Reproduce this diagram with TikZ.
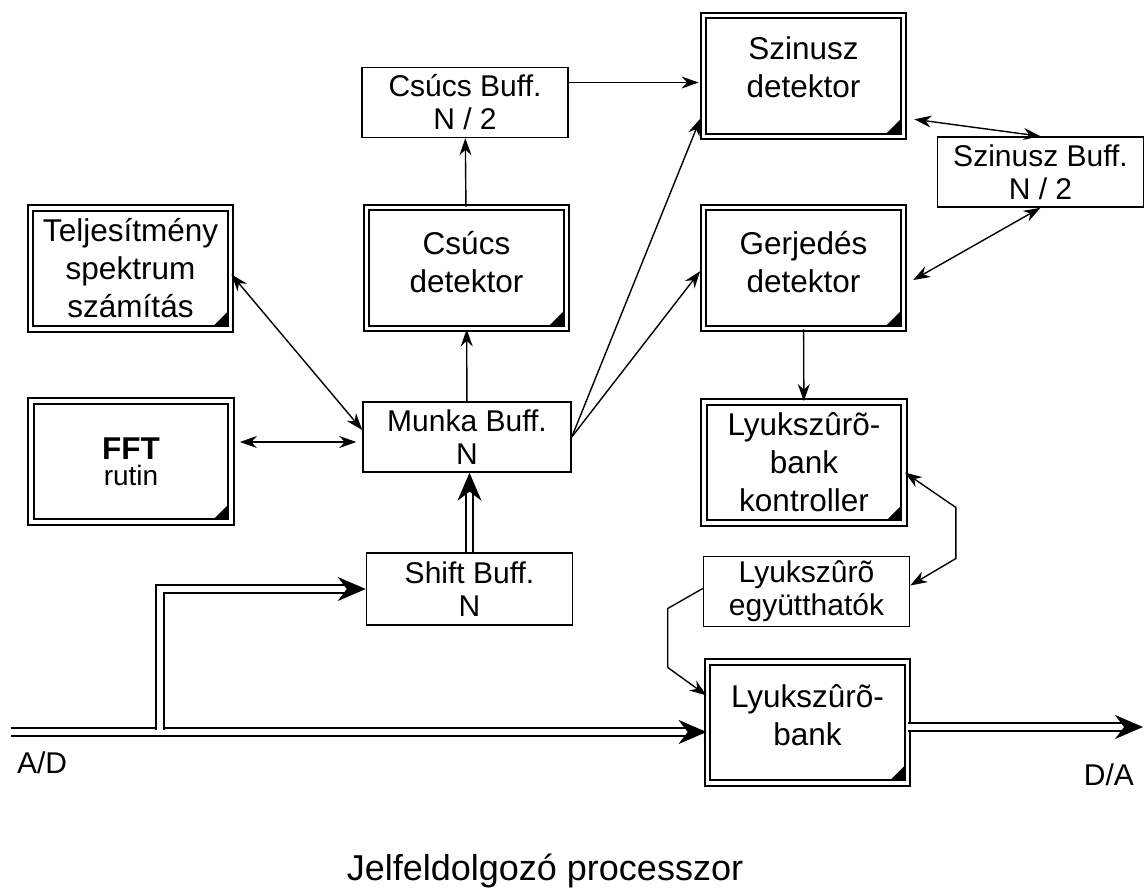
\documentclass[tikz,border=0pt]{standalone}
\usepackage{fontspec}
\setmainfont{Liberation Sans}
\usetikzlibrary{positioning, arrows.meta, calc}

\begin{document}
\begin{tikzpicture}[x=1pt,y=-1pt,>={Stealth[length=17pt,width=12pt]},line width=1.4pt,
    procbox/.style={draw,double,double distance=3.5pt,line width=1.8pt,
        minimum width=200pt,minimum height=121pt,align=center,
        font=\fontsize{31.5}{38}\selectfont,
        path picture={\fill ([shift={(-3.6pt,3.6pt)}]path picture bounding box.south east)
            -- ++(-13pt,0pt) -- ++(13pt,13pt) -- cycle;}},
    bufbox/.style={draw,line width=1.5pt,minimum width=206pt,minimum height=70pt,
        align=center,inner sep=0pt,font=\fontsize{30}{33}\selectfont},
    bus/.style={double,double distance=5.5pt,line width=2.1pt,-{Stealth[length=28pt,width=24pt]}},
    lbl/.style={font=\fontsize{30}{33}\selectfont}]
    \useasboundingbox (0,0) rectangle (1145,888);

    % feldolgozo blokkok
    \node[procbox,text depth=18pt] (szdet) at (803.5,76) {Szinusz\\detektor};
    \node[procbox] (telj) at (130.5,268.5) {Teljesítmény\\spektrum\\számítás};
    \node[procbox,text depth=12pt] (csdet) at (466.5,268) {Csúcs\\detektor};
    \node[procbox,text depth=12pt] (gerj) at (803.5,268) {Gerjedés\\detektor};
    \node[procbox] (fft) at (131,461.5) {\textbf{FFT}\\[-12pt]{\fontsize{28}{30}\selectfont rutin}};
    \node[procbox] (ctrl) at (804,462.5) {Lyukszûrõ-\\bank\\kontroller};
    \node[procbox,text depth=14pt] (bank) at (807.5,722.5) {Lyukszûrõ-\\bank};

    % pufferek
    \node[bufbox] (csbuf) at (465,102.5) {Csúcs Buff.\\N / 2};
    \node[bufbox] (szbuf) at (1040.5,172) {Szinusz Buff.\\N / 2};
    \node[bufbox,minimum width=208pt] (munka) at (467,437) {Munka Buff.\\N};
    \node[bufbox,minimum height=72pt] (shift) at (469.5,589) {Shift Buff.\\N};
    \node[bufbox] (coef) at (806.5,591.5) {Lyukszûrõ\\együtthatók};

    % feliratok
    \node[lbl,anchor=base west] (adlbl) at (13,773) {A/D};
    \node[lbl,anchor=base east] (dalbl) at (1138,785) {D/A};
    \node[anchor=base,font=\fontsize{36}{40}\selectfont] (title) at (545,880) {Jelfeldolgozó processzor};

    \coordinate (ad) at (11,732);
    \coordinate (split) at (160,729.5);
    \coordinate (da) at (1143,727);

    % jelutak
    \draw[->,shorten >=4pt] ([yshift=20pt]csbuf.east) -- ([yshift=20pt]csbuf.east -| szdet.west);
    \draw[->] (csdet) -- (csbuf);
    \draw[->] (munka) -- (csdet);
    \draw[<->] ([yshift=-6pt]telj.east) -- ([yshift=7pt]munka.west);
    \draw[<->,shorten <=8pt,shorten >=6pt] ([yshift=-5pt]munka.west -| fft.east) -- ([yshift=-5pt]munka.west);
    \draw[->,shorten >=6pt] (munka.east) -- ([yshift=-37pt]szdet.west);
    \draw[->,shorten >=4pt] (munka.east) -- (gerj.west);
    \draw[<->,shorten <=10pt] ([yshift=-42pt]szdet.east) -- (szbuf.north);
    \draw[<->,shorten >=10pt] (szbuf.south) -- ([yshift=-17pt]gerj.east);
    \draw[->] (gerj) -- (ctrl);
    \draw[<->] ([yshift=-10pt]ctrl.east) -- ++(51,35) -- ++(0,51) -- ([yshift=6pt]coef.east);
    \draw[->] ([yshift=3pt]coef.west) -- ++(-35,20) -- ++(0,59) -- ([yshift=27pt]bank.west);

    % adatfolyam
    \draw[bus] (ad) -- (bank.west |- ad);
    \draw[bus] (split) |- (shift.west);
    \draw[bus] (shift.north) -- (shift.north |- munka.south);
    \draw[bus] (bank.east |- da) -- (da);
\end{tikzpicture}
\end{document}
